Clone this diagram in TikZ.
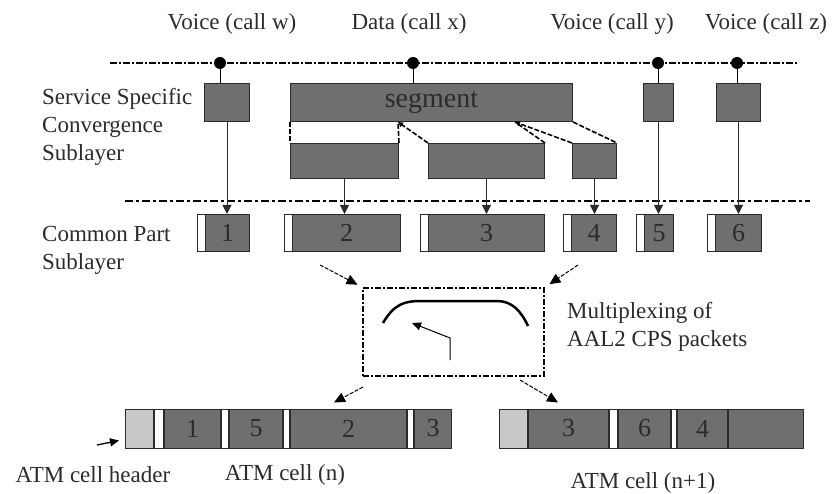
\documentclass[tikz,border=0pt]{standalone}
\usepackage{fontspec}
\setmainfont{Liberation Serif}
\usepackage{xcolor}
\definecolor{boxgray}{HTML}{6F6F6F}
\definecolor{hdrgray}{HTML}{C8C8C8}
\definecolor{darkgray}{HTML}{2B2B2B}
\usetikzlibrary{positioning,arrows.meta}

\begin{document}
\begin{tikzpicture}[x=1pt, y=-1pt,
	txt/.style={font=\fontsize{23}{28}\selectfont, text=darkgray, inner sep=0pt},
	blk/.style={rectangle, draw=darkgray, fill=boxgray, line width=1pt, inner sep=0pt,
					minimum height=38pt, anchor=north west, font=\fontsize{26}{28}\selectfont, text=darkgray},
	pkt/.style={blk, minimum height=37pt, execute at begin node=\hspace*{8pt},
					path picture={
						\fill[white] (path picture bounding box.north west) rectangle ([xshift=8pt]path picture bounding box.south west);
						\draw[darkgray, line width=1pt] ([xshift=8pt]path picture bounding box.north west) -- ([xshift=8pt]path picture bounding box.south west);}},
	cell/.style={blk, minimum height=39pt, anchor=west},
	gap/.style={cell, fill=white},
	hdr/.style={cell, fill=hdrgray},
	dot/.style={circle, fill=black, inner sep=0pt, minimum size=12pt},
	down/.style={-{Triangle[length=9pt,width=9pt]}, line width=1pt, draw=darkgray},
	cut/.style={line width=1.6pt, dash pattern=on 5pt off 2pt},
	mux/.style={-{Triangle[length=11pt,width=10pt]}, line width=1pt, dash pattern=on 4pt off 1.5pt}]
	\useasboundingbox (0,0) rectangle (832,494);
	% calls
	\node (cw) [txt] at (232,24) {Voice (call w)};
	\node (cx) [txt] at (409,24) {Data (call x)};
	\node (cy) [txt] at (612,24) {Voice (call y)};
	\node (cz) [txt] at (766,24) {Voice (call z)};
	\coordinate (tl) at (110,63);
	\coordinate (tr) at (797,63);
	\draw[line width=1.2pt, dash pattern=on 7pt off 2pt on 2pt off 2pt] (tl) -- (tr);
	\node (dw) [dot] at (220,63) {};
	\node (dx) [dot] at (413,63) {};
	\node (dy) [dot] at (658,63) {};
	\node (dz) [dot] at (737,63) {};
	% service specific convergence sublayer
	\node (sscs) [txt, align=left, anchor=west] at (42,127) {Service Specific\\Convergence\\Sublayer};
	\node (sw) [blk, minimum width=45pt] at (204,83) {};
	\node (seg) [blk, minimum width=282pt, font=\fontsize{28}{30}\selectfont] at (290,83) {segment};
	\node (sy) [blk, minimum width=30pt] at (643,83) {};
	\node (sz) [blk, minimum width=44pt] at (716,83) {};
	\node (sa) [blk, minimum width=108pt, minimum height=35pt] at (290,143) {};
	\node (sb) [blk, minimum width=116pt, minimum height=35pt] at (428,143) {};
	\node (sc) [blk, minimum width=44pt, minimum height=35pt] at (572,143) {};
	\draw[line width=1pt] (dw) -- (dw |- sw.north);
	\draw[line width=1pt] (dx) -- (dx |- seg.north);
	\draw[line width=1pt] (dy) -- (dy |- sy.north);
	\draw[line width=1pt] (dz) -- (dz |- sz.north);
	% segmentation
	\coordinate (cut1) at (398,122);
	\coordinate (cut2) at (515,122);
	\draw[cut] (seg.south west) -- (sa.north west);
	\draw[cut] (sa.north east) -- (cut1);
	\draw[cut, -{Triangle[length=5pt,width=5pt]}] (sb.north west) -- (cut1);
	\draw[cut] (sb.north east) -- (cut2);
	\draw[cut, -{Triangle[length=5pt,width=5pt]}] (sc.north west) -- (cut2);
	\draw[cut] (seg.south east) -- (sc.north east);
	% common part sublayer
	\coordinate (ml) at (125,201);
	\coordinate (mr) at (810,201);
	\draw[line width=2.5pt, dash pattern=on 8pt off 3pt on 3pt off 3pt] (ml) -- (mr);
	\node (cps) [txt, align=left, anchor=west] at (42,250) {Common Part\\Sublayer};
	\node (p1) [pkt, minimum width=52pt] at (197,214) {1};
	\node (p2) [pkt, minimum width=116pt] at (284,214) {2};
	\node (p3) [pkt, minimum width=124pt] at (420,214) {3};
	\node (p4) [pkt, minimum width=53pt] at (563,214) {4};
	\node (p5) [pkt, minimum width=37pt] at (636,214) {5};
	\node (p6) [pkt, minimum width=54pt] at (707,214) {6};
	\draw[down] (sw) -- (sw |- p1.north);
	\draw[down] (sa) -- (sa |- p2.north);
	\draw[down] (sb) -- (sb |- p3.north);
	\draw[down] (sc) -- (sc |- p4.north);
	\draw[down] (sy) -- (sy |- p5.north);
	\draw[down] (sz) -- (sz |- p6.north);
	% multiplexing
	\node (mx) [draw, line width=2.2pt, dash pattern=on 6pt off 2pt on 2pt off 2pt,
				minimum width=181pt, minimum height=88pt, inner sep=0pt, anchor=north west] at (362,287) {};
	\draw[line width=2.5pt] (383,323) .. controls (394,304) and (405,301) .. (420,301) -- (497,301)
				.. controls (512,301) and (521,311) .. (528,326);
	\draw[line width=1pt, -{Triangle[length=9pt,width=8pt]}] (450,360) -- (450,338) -- (412,323);
	\node (mxtxt) [txt, align=left, anchor=west] at (567,327) {Multiplexing of\\AAL2 CPS packets};
	\coordinate (in1) at (320,265);
	\coordinate (in2) at (578,265);
	\coordinate (out1) at (363,387);
	\coordinate (out2) at (520,380);
	\draw[mux, shorten >=5pt] (in1) -- (mx.north west);
	\draw[mux, shorten >=5pt] (in2) -- (mx.north east);
	% atm cells
	\node (h1) [hdr, minimum width=28pt] at (125,428.5) {};
	\node (g0) [gap, minimum width=9pt, right=0pt of h1.east] {};
	\node (n1) [cell, minimum width=56pt, right=0pt of g0.east] {1};
	\node (g1) [gap, minimum width=7pt, right=0pt of n1.east] {};
	\node (n5) [cell, minimum width=53pt, right=0pt of g1.east] {5};
	\node (g2) [gap, minimum width=6pt, right=0pt of n5.east] {};
	\node (n2) [cell, minimum width=116pt, right=0pt of g2.east] {2};
	\node (g3) [gap, minimum width=6pt, right=0pt of n2.east] {};
	\node (n3) [cell, minimum width=37pt, right=0pt of g3.east] {3};
	\node (h2) [hdr, minimum width=28pt] at (499,428.5) {};
	\node (m3) [cell, minimum width=80pt, right=0pt of h2.east] {3};
	\node (g4) [gap, minimum width=8pt, right=0pt of m3.east] {};
	\node (m6) [cell, minimum width=52pt, right=0pt of g4.east] {6};
	\node (g5) [gap, minimum width=5pt, right=0pt of m6.east] {};
	\node (m4) [cell, minimum width=50pt, right=0pt of g5.east] {4};
	\node (m0) [cell, minimum width=75pt, right=0pt of m4.east] {};
	\draw[mux] (out1) -- ([xshift=44pt,yshift=6pt]n2.north west);
	\draw[mux] (out2) -- ([xshift=30pt,yshift=6pt]m3.north west);
	\coordinate (ha) at (97,445);
	\draw[line width=1.3pt, -{Triangle[length=9pt,width=8pt]}] (ha) -- ([xshift=-6pt,yshift=8pt]h1.south west);
	\node (hdrtxt) [txt] at (93,475) {ATM cell header};
	\node (celln) [txt] at (285,475) {ATM cell (n)};
	\node (cellm) [txt] at (643,483) {ATM cell (n+1)};
\end{tikzpicture}
\end{document}
